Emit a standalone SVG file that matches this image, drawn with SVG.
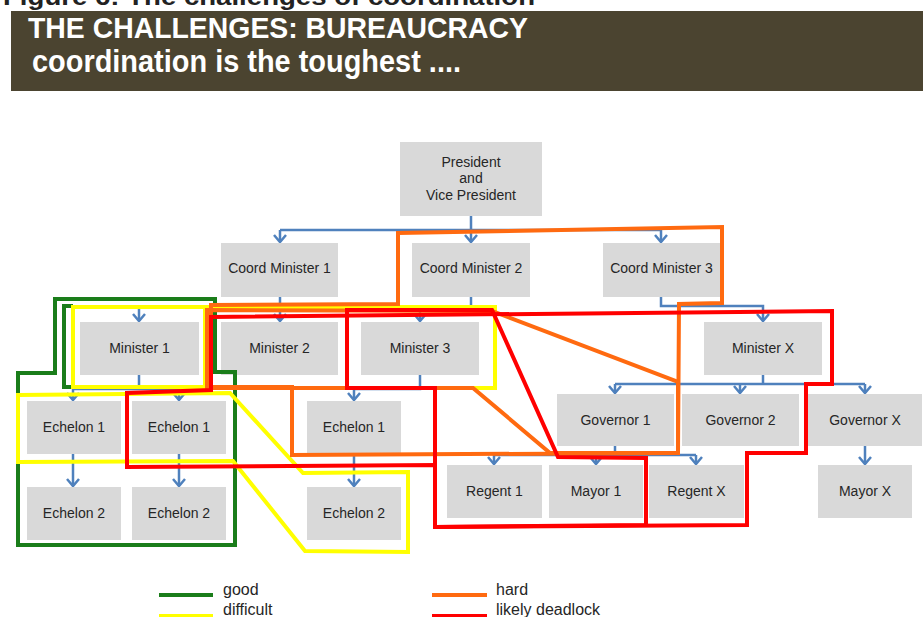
<svg xmlns="http://www.w3.org/2000/svg" width="923" height="617" viewBox="0 0 923 617">
<style>
.box{fill:#d9d9d9}
.lbl{font-family:"Liberation Sans",Arial,sans-serif;font-size:14px;fill:#262626;text-anchor:middle}
.con{fill:none;stroke:#4f81bd;stroke-width:2.5}
.reg{fill:none;stroke-width:4;stroke-linejoin:miter}
.g{stroke:#1a7d1a}.y{stroke:#ffff00}.o{stroke:#ff6a10}.r{stroke:#ff0000}
.leg{font-family:"Liberation Sans",Arial,sans-serif;font-size:16px;fill:#262626}
</style>
<defs>
<marker id="arr" markerUnits="userSpaceOnUse" markerWidth="16" markerHeight="16" viewBox="-9 -8 16 16" refX="0" refY="0" orient="auto">
<path d="M-7,-6 L0,0 L-7,6" fill="none" stroke="#4f81bd" stroke-width="2.5"/>
</marker>
</defs>
<rect width="923" height="617" fill="#ffffff"/>
<g id="header">
<text x="3" y="5" font-family="'Liberation Sans',Arial,sans-serif" font-size="24" font-weight="bold" fill="#222" textLength="532" lengthAdjust="spacingAndGlyphs">Figure 6: The challenges of coordination</text>
<rect x="11" y="11" width="912" height="80" fill="#4b4430"/>
<text x="28" y="38" font-family="'Liberation Sans',Arial,sans-serif" font-size="30" font-weight="bold" fill="#ffffff" textLength="500" lengthAdjust="spacingAndGlyphs">THE CHALLENGES: BUREAUCRACY</text>
<text x="32" y="72" font-family="'Liberation Sans',Arial,sans-serif" font-size="31" font-weight="bold" fill="#ffffff" textLength="429" lengthAdjust="spacingAndGlyphs">coordination is the toughest ....</text>
</g>
<g id="connectors">
<path class="con" d="M471,216 V230 M280,230 H661"/>
<path class="con" marker-end="url(#arr)" d="M280,230 V242"/>
<path class="con" marker-end="url(#arr)" d="M471,230 V242"/>
<path class="con" marker-end="url(#arr)" d="M661,230 V242"/>
<path class="con" marker-end="url(#arr)" d="M280,297 V321"/>
<path class="con" d="M471,297 V308"/>
<path class="con" marker-end="url(#arr)" d="M139,309 V321"/>
<path class="con" marker-end="url(#arr)" d="M420,309 V321"/>
<path class="con" marker-end="url(#arr)" d="M661,297 V306 H763 V321"/>
<path class="con" d="M139,375 V389 M73,389 H179"/>
<path class="con" marker-end="url(#arr)" d="M73,389 V400"/>
<path class="con" marker-end="url(#arr)" d="M179,389 V400"/>
<path class="con" marker-end="url(#arr)" d="M73,454 V486"/>
<path class="con" marker-end="url(#arr)" d="M179,454 V486"/>
<path class="con" marker-end="url(#arr)" d="M420,375 V389 H354 V400"/>
<path class="con" marker-end="url(#arr)" d="M354,453 V486"/>
<path class="con" d="M763,375 V384 M615,384 H865"/>
<path class="con" marker-end="url(#arr)" d="M615,384 V393"/>
<path class="con" marker-end="url(#arr)" d="M740,384 V393"/>
<path class="con" marker-end="url(#arr)" d="M865,384 V393"/>
<path class="con" d="M615,446 V455 M494,455 H696"/>
<path class="con" marker-end="url(#arr)" d="M494,455 V464"/>
<path class="con" marker-end="url(#arr)" d="M596,455 V464"/>
<path class="con" marker-end="url(#arr)" d="M696,455 V464"/>
<path class="con" marker-end="url(#arr)" d="M865,446 V464"/>
</g>
<g id="node-president"><rect class="box" x="400" y="142" width="142" height="74"/><text class="lbl" x="471" y="167">President</text><text class="lbl" x="471" y="183">and</text><text class="lbl" x="471" y="200">Vice President</text></g>
<g id="node-coord1"><rect class="box" x="221" y="243" width="117" height="54"/><text class="lbl" x="279.5" y="273">Coord Minister 1</text></g>
<g id="node-coord2"><rect class="box" x="412" y="243" width="118" height="54"/><text class="lbl" x="471" y="273">Coord Minister 2</text></g>
<g id="node-coord3"><rect class="box" x="603" y="243" width="117" height="54"/><text class="lbl" x="661.5" y="273">Coord Minister 3</text></g>
<g id="node-minister1"><rect class="box" x="80" y="322" width="119" height="53"/><text class="lbl" x="139.5" y="353">Minister 1</text></g>
<g id="node-minister2"><rect class="box" x="221" y="322" width="117" height="53"/><text class="lbl" x="279.5" y="353">Minister 2</text></g>
<g id="node-minister3"><rect class="box" x="361" y="322" width="118" height="53"/><text class="lbl" x="420" y="353">Minister 3</text></g>
<g id="node-ministerx"><rect class="box" x="704" y="322" width="118" height="53"/><text class="lbl" x="763" y="353">Minister X</text></g>
<g id="node-echelon1a"><rect class="box" x="27" y="401" width="94" height="53"/><text class="lbl" x="74" y="432">Echelon 1</text></g>
<g id="node-echelon1b"><rect class="box" x="132" y="401" width="94" height="53"/><text class="lbl" x="179" y="432">Echelon 1</text></g>
<g id="node-echelon1c"><rect class="box" x="307" y="401" width="94" height="53"/><text class="lbl" x="354" y="432">Echelon 1</text></g>
<g id="node-echelon2a"><rect class="box" x="27" y="487" width="94" height="53"/><text class="lbl" x="74" y="518">Echelon 2</text></g>
<g id="node-echelon2b"><rect class="box" x="132" y="487" width="94" height="53"/><text class="lbl" x="179" y="518">Echelon 2</text></g>
<g id="node-echelon2c"><rect class="box" x="307" y="487" width="94" height="53"/><text class="lbl" x="354" y="518">Echelon 2</text></g>
<g id="node-governor1"><rect class="box" x="557" y="394" width="117" height="52"/><text class="lbl" x="615.5" y="425">Governor 1</text></g>
<g id="node-governor2"><rect class="box" x="682" y="394" width="117" height="52"/><text class="lbl" x="740.5" y="425">Governor 2</text></g>
<g id="node-governorx"><rect class="box" x="808" y="394" width="114" height="52"/><text class="lbl" x="865" y="425">Governor X</text></g>
<g id="node-regent1"><rect class="box" x="447" y="465" width="95" height="53"/><text class="lbl" x="494.5" y="496">Regent 1</text></g>
<g id="node-mayor1"><rect class="box" x="549" y="465" width="94" height="53"/><text class="lbl" x="596" y="496">Mayor 1</text></g>
<g id="node-regentx"><rect class="box" x="649" y="465" width="95" height="53"/><text class="lbl" x="696.5" y="496">Regent X</text></g>
<g id="node-mayorx"><rect class="box" x="818" y="465" width="94" height="53"/><text class="lbl" x="865" y="496">Mayor X</text></g>
<g id="regions">
<path class="reg g" d="M55,299 L215,299 L215,372 L235,372 L235,545 L18,545 L18,373 L55,373 Z"/>
<path class="reg g" d="M73,306 L64,306 L64,387 L74,387"/>
<rect class="reg y" x="73" y="307" width="133" height="80"/>
<rect class="reg y" x="205" y="307" width="290" height="81"/>
<path class="reg y" d="M18,395 L230,393 L303,473 L408,472 L408,552 L305,551 L233,461 L18,462 Z"/>
<path class="reg o" d="M211,305 L398,304 L398,233 L722,227 L722,303 L679,304 L678,453 L292,455 L292,387 L211,387 Z"/>
<path class="reg o" d="M207,310 L492,311 L678,382 L678,453 L550,453 L473,388 L207,388 Z"/>
<path class="reg r" d="M211,317 L832,311 L832,384 L806,384 L806,453 L747,453 L747,525 L435,527 L435,465 L127,467 L127,393 L211,390 Z"/>
<path class="reg r" d="M347,310 L492,310 L558,457 L646,458 L646,525 L435,527 L435,388 L347,388 Z"/>
</g>
<g id="legend">
<line x1="159" y1="595" x2="213" y2="595" stroke="#1a7d1a" stroke-width="4"/>
<text class="leg" x="223" y="595">good</text>
<line x1="159" y1="616" x2="213" y2="616" stroke="#ffff00" stroke-width="4"/>
<text class="leg" x="223" y="615">difficult</text>
<line x1="432" y1="595" x2="487" y2="595" stroke="#ff6a10" stroke-width="4"/>
<text class="leg" x="496" y="595">hard</text>
<line x1="432" y1="616" x2="487" y2="616" stroke="#ff0000" stroke-width="4"/>
<text class="leg" x="496" y="615">likely deadlock</text>
</g>
</svg>
